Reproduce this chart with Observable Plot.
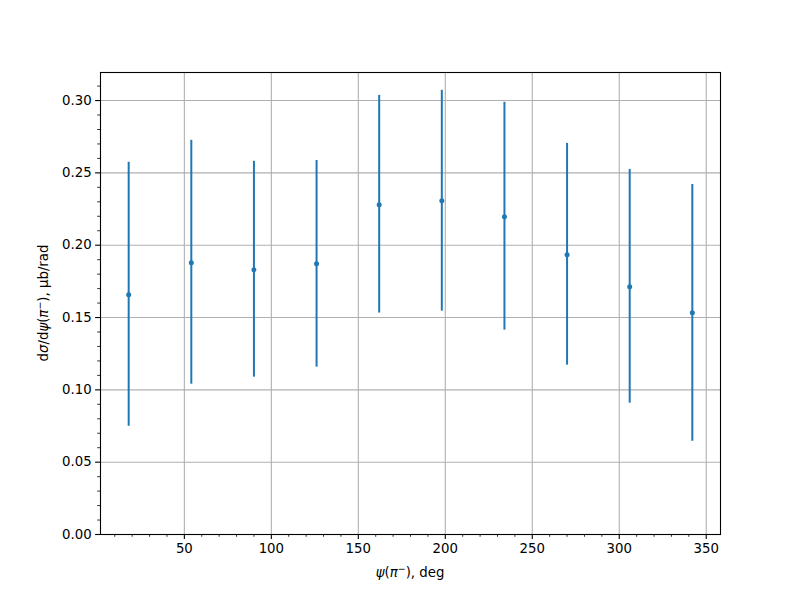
<!DOCTYPE html>
<html>
<head>
<meta charset="utf-8">
<script src="https://cdn.jsdelivr.net/npm/d3@7"></script>
<script src="https://cdn.jsdelivr.net/npm/@observablehq/plot@0.6"></script>
<style>
  html, body { margin: 0; padding: 0; background: #fff; }
  svg { display: block; }
</style>
</head>
<body>
<div id="chart"></div>
<script>
const psi = [18, 54, 90, 126, 162, 198, 234, 270, 306, 342];
const xsec = [0.1658, 0.1879, 0.1830, 0.1872, 0.2280, 0.2308, 0.2197, 0.1934, 0.1713, 0.1533];
const errHi = [0.2573, 0.2725, 0.2580, 0.2586, 0.3036, 0.3071, 0.2988, 0.2704, 0.2524, 0.2420];
const errLo = [0.0749, 0.1039, 0.1088, 0.1157, 0.1531, 0.1544, 0.1413, 0.1171, 0.0908, 0.0645];
const xTicks = [50, 100, 150, 200, 250, 300, 350];
const xMinor = [10, 20, 30, 40, 60, 70, 80, 90, 110, 120, 130, 140, 160, 170, 180, 190, 210, 220, 230, 240, 260, 270, 280, 290, 310, 320, 330, 340];
const yTicks = [0.00, 0.05, 0.10, 0.15, 0.20, 0.25, 0.30];
const yMinor = [0.01, 0.02, 0.03, 0.04, 0.06, 0.07, 0.08, 0.09, 0.11, 0.12, 0.13, 0.14, 0.16, 0.17, 0.18, 0.19, 0.21, 0.22, 0.23, 0.24, 0.26, 0.27, 0.28, 0.29, 0.31];

const data = psi.map((p, i) => ({psi: p, y: xsec[i], lo: errLo[i], hi: errHi[i]}));
const blue = "#1f77b4";
const font = "DejaVu Sans";

const chart = Plot.plot({
  width: 800,
  height: 600,
  marginLeft: 100,
  marginRight: 80,
  marginTop: 72,
  marginBottom: 66,
  style: {fontFamily: font, fontSize: "13.3px", color: "black", background: "white"},
  x: {domain: [1.8, 358.2]},
  y: {domain: [0, 0.3194]},
  marks: [
    Plot.gridX(xTicks, {stroke: "#b0b0b0", strokeOpacity: 1, strokeWidth: 1.1}),
    Plot.gridY(yTicks, {stroke: "#b0b0b0", strokeOpacity: 1, strokeWidth: 1.1}),
    Plot.ruleX(data, {x: "psi", y1: "lo", y2: "hi", stroke: blue, strokeWidth: 2}),
    Plot.dot(data, {x: "psi", y: "y", r: 2.5, fill: blue, stroke: "none"}),
    Plot.axisX({ticks: xTicks, tickSize: 4.9, tickPadding: 4, tickFormat: d3.format("d"), label: null, strokeWidth: 1.1, fontSize: "13.3px"}),
    Plot.axisX({ticks: xMinor, tickSize: 2.8, tickFormat: () => "", label: null, strokeWidth: 0.8}),
    Plot.axisY({ticks: yTicks, tickSize: 4.9, tickPadding: 4, tickFormat: d3.format(".2f"), label: null, strokeWidth: 1.1, fontSize: "13.3px"}),
    Plot.axisY({ticks: yMinor, tickSize: 2.8, tickFormat: () => "", label: null, strokeWidth: 0.8}),
    Plot.frame({stroke: "black", strokeWidth: 1.1})
  ]
});

const svg = d3.select(chart);
// x axis label
const xl = svg.append("text")
  .attr("x", 410).attr("y", 577)
  .attr("text-anchor", "middle")
  .attr("font-family", font).attr("font-size", "13.3px").attr("fill", "black");
xl.append("tspan").attr("font-style", "italic").text("ψ");
xl.append("tspan").text("(");
xl.append("tspan").attr("font-style", "italic").text("π");
xl.append("tspan").attr("font-size", "9.5px").attr("dy", "-5").text("−");
xl.append("tspan").attr("dy", "5").text("), deg");

// y axis label
const yl = svg.append("text")
  .attr("transform", "translate(48,303) rotate(-90)")
  .attr("text-anchor", "middle")
  .attr("font-family", font).attr("font-size", "13.3px").attr("fill", "black");
yl.append("tspan").text("d");
yl.append("tspan").attr("font-style", "italic").text("σ");
yl.append("tspan").text("/d");
yl.append("tspan").attr("font-style", "italic").text("ψ");
yl.append("tspan").text("(");
yl.append("tspan").attr("font-style", "italic").text("π");
yl.append("tspan").attr("font-size", "9.5px").attr("dy", "-5").text("−");
yl.append("tspan").attr("dy", "5").text("), μb/rad");

document.getElementById("chart").appendChild(chart);
</script>
</body>
</html>
